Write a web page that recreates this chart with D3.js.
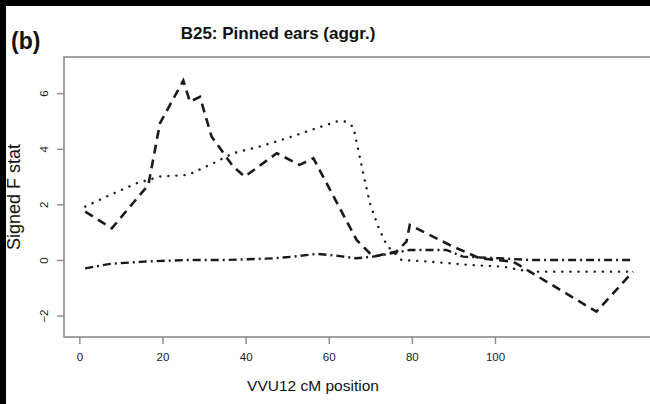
<!DOCTYPE html>
<html>
<head>
<meta charset="utf-8">
<script src="https://cdn.jsdelivr.net/npm/d3@7"></script>
<style>
  body { margin: 0; background: #fff; }
  text { font-family: "Liberation Sans", Arial, sans-serif; }
</style>
</head>
<body>
<script>
// values (x = cM position, y = signed F stat)
var dashedX = [1.4, 7.8, 16.6, 19.4, 25.0, 26.6, 29.0, 31.8, 37.0, 39.8, 47.5, 53.0, 56.3, 66.7, 70.7, 76.3, 78.7, 79.5, 89.1, 96.3, 104.4, 124.4, 133.2];
var dashedY = [1.74, 1.14, 2.70, 4.92, 6.45, 5.69, 5.87, 4.44, 3.36, 3.0, 3.84, 3.42, 3.66, 0.72, 0.12, 0.30, 0.66, 1.26, 0.54, 0.06, -0.06, -1.86, -0.42];

var dottedX = [1.4, 7.4, 13.8, 19.4, 26.2, 32.2, 37.0, 43.4, 49.9, 57.1, 61.9, 63.9, 65.9, 67.1, 68.3, 69.9, 71.9, 73.9, 77.5, 84.3, 93.9, 101.9, 108.3, 116.3, 133.2];
var dottedY = [1.92, 2.34, 2.76, 3.0, 3.06, 3.48, 3.84, 4.08, 4.38, 4.74, 4.98, 4.98, 4.79, 3.96, 3.12, 2.04, 1.20, 0.54, 0.0, -0.06, -0.18, -0.24, -0.42, -0.42, -0.42];

var dashdotX = [1.4, 7.4, 15.4, 25.8, 35.4, 46.6, 51.4, 57.1, 62.7, 66.5, 70.7, 79.5, 88.3, 92.3, 101.1, 108.3, 133.2];
var dashdotY = [-0.30, -0.14, -0.06, 0.0, 0.0, 0.06, 0.12, 0.22, 0.14, 0.06, 0.12, 0.36, 0.36, 0.12, 0.06, 0.0, 0.0];

var xTicks = [0, 20, 40, 60, 80, 100];
var yTicks = [-2, 0, 2, 4, 6];

var width = 650, height = 404;
var plotLeft = 64, plotTop = 57, plotBottom = 337, plotRight = 655;
var font = "'Liberation Sans', Arial, sans-serif";

var svg = d3.select("body").append("svg")
    .attr("width", width)
    .attr("height", height);

svg.append("rect").attr("width", width).attr("height", height).attr("fill", "#fff");

var x = d3.scaleLinear().domain([-3.7, 138.5]).range([plotLeft, plotRight]);
var y = d3.scaleLinear().domain([-2.77, 7.30]).range([plotBottom, plotTop]);

// plot box (right side runs off the picture)
svg.append("rect")
    .attr("x", plotLeft).attr("y", plotTop)
    .attr("width", plotRight - plotLeft + 20).attr("height", plotBottom - plotTop)
    .attr("fill", "none")
    .attr("stroke", "#8a8a8a")
    .attr("stroke-width", 1.6);

// x axis
var xAxis = svg.append("g").attr("transform", "translate(0," + plotBottom + ")")
    .call(d3.axisBottom(x).tickValues(xTicks).tickSize(7).tickPadding(9));
xAxis.select(".domain").remove();
xAxis.selectAll("line").attr("stroke", "#8a8a8a").attr("stroke-width", 1.4);
xAxis.selectAll("text").attr("font-size", 11.5).attr("fill", "#1a1a1a")
    .attr("font-family", font);

// y axis, labels turned like in R
var yAxis = svg.append("g").attr("transform", "translate(" + plotLeft + ",0)")
    .call(d3.axisLeft(y).tickValues(yTicks).tickSize(7));
yAxis.select(".domain").remove();
yAxis.selectAll("line").attr("stroke", "#8a8a8a").attr("stroke-width", 1.4);
yAxis.selectAll("text")
    .attr("font-size", 11.5).attr("fill", "#1a1a1a")
    .attr("font-family", font)
    .attr("x", null).attr("dy", null)
    .attr("text-anchor", "middle")
    .attr("transform", "translate(-16,0) rotate(-90)");

var line = d3.line()
    .x(function(d) { return x(d[0]); })
    .y(function(d) { return y(d[1]); });

function pairs(xs, ys) {
    return xs.map(function(v, i) { return [v, ys[i]]; });
}

svg.append("path")
    .attr("d", line(pairs(dottedX, dottedY)))
    .attr("fill", "none")
    .attr("stroke", "#1a1a1a")
    .attr("stroke-width", 2.4)
    .attr("stroke-linecap", "round")
    .attr("stroke-dasharray", "0.1,8");

svg.append("path")
    .attr("d", line(pairs(dashdotX, dashdotY)))
    .attr("fill", "none")
    .attr("stroke", "#1a1a1a")
    .attr("stroke-width", 2.4)
    .attr("stroke-dasharray", "8,4,2,4");

svg.append("path")
    .attr("d", line(pairs(dashedX, dashedY)))
    .attr("fill", "none")
    .attr("stroke", "#1a1a1a")
    .attr("stroke-width", 2.6)
    .attr("stroke-dasharray", "9,6");

// titles
svg.append("text")
    .attr("x", 278).attr("y", 39)
    .attr("text-anchor", "middle")
    .attr("font-size", 17).attr("font-weight", "bold")
    .attr("fill", "#111")
    .text("B25: Pinned ears (aggr.)");

svg.append("text")
    .attr("x", 11).attr("y", 49)
    .attr("font-size", 23).attr("font-weight", "bold")
    .attr("fill", "#111")
    .text("(b)");

svg.append("text")
    .attr("x", 313).attr("y", 391)
    .attr("text-anchor", "middle")
    .attr("font-size", 15.5)
    .attr("fill", "#111")
    .text("VVU12 cM position");

svg.append("text")
    .attr("transform", "translate(20,197) rotate(-90)")
    .attr("text-anchor", "middle")
    .attr("font-size", 18)
    .attr("fill", "#111")
    .text("Signed F stat");

// black edges of the scan
svg.append("rect").attr("x", 0).attr("y", 0).attr("width", width).attr("height", 6).attr("fill", "#000");
svg.append("rect").attr("x", 0).attr("y", 0).attr("width", 6).attr("height", height).attr("fill", "#000");
</script>
</body>
</html>
